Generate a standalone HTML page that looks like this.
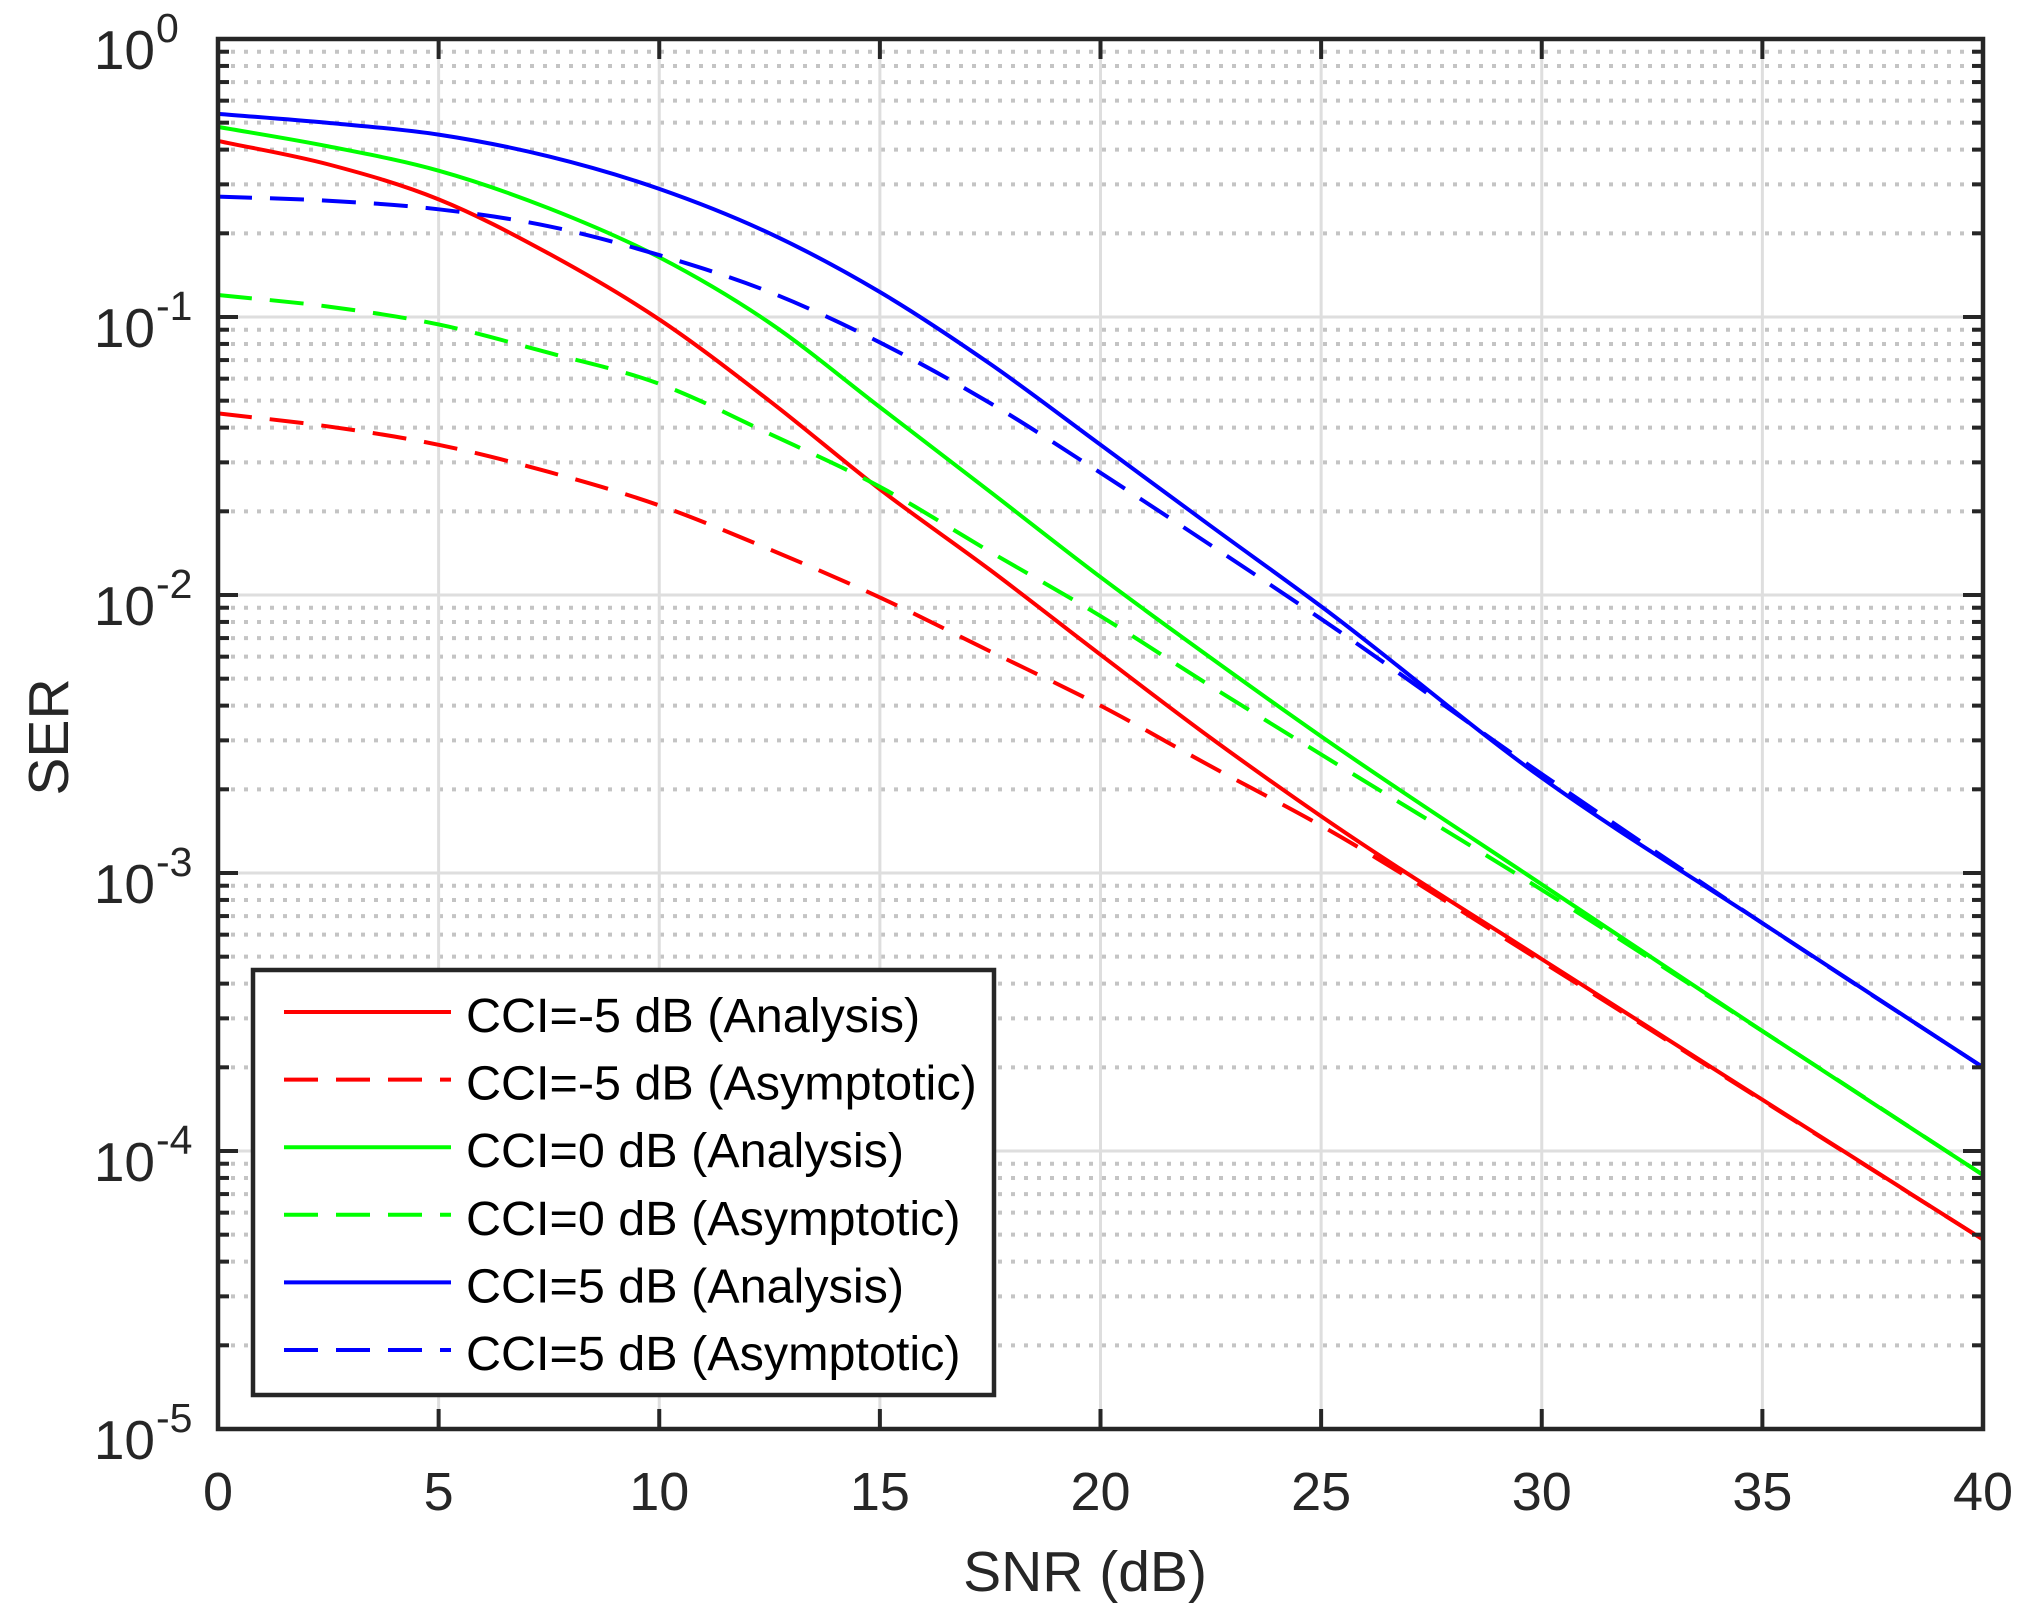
<!DOCTYPE html>
<html><head><meta charset="utf-8"><style>
html,body{margin:0;padding:0;background:#fff;}
svg{display:block;font-family:"Liberation Sans",Arial,sans-serif;}
</style></head><body>
<svg id="chart" width="2024" height="1617" viewBox="0 0 2024 1617" xmlns="http://www.w3.org/2000/svg">
<rect x="0" y="0" width="2024" height="1617" fill="#fff"/>
<g id="grid"></g>
<g id="series"></g>
<g id="axes"></g>
<g id="legend"></g>
<text x="1085" y="1591" font-size="57" fill="#262626" text-anchor="middle">SNR (dB)</text>
<text transform="translate(68,737) rotate(-90)" font-size="57" fill="#262626" text-anchor="middle">SER</text>
</svg>
<script>
const snr = [0,2.5,5,7.5,10,12.5,15,17.5,20,22.5,25,30,35,40];
const xTicks = [0,5,10,15,20,25,30,35,40];
const yExps = [0,-1,-2,-3,-4,-5];
const redAnalysis = [0.43,0.354,0.265,0.169,0.098,0.0499,0.024,0.0123,0.0061,0.00306,0.0016,4.9e-4,1.53e-4,4.8e-5];
const redAsym = [0.045,0.0404,0.0347,0.0277,0.021,0.0146,0.0098,0.00627,0.004,0.00242,0.00148,4.8e-4,1.52e-4,4.8e-5];
const greenAnalysis = [0.483,0.411,0.336,0.246,0.164,0.0953,0.0474,0.0235,0.0116,0.00594,0.0031,9.1e-4,2.7e-4,8.2e-5];
const greenAsym = [0.12,0.109,0.094,0.0743,0.0575,0.038,0.0245,0.0143,0.0084,0.0047,0.00267,8.7e-4,2.7e-4,8.2e-5];
const blueAnalysis = [0.538,0.499,0.453,0.378,0.289,0.200,0.123,0.0678,0.0347,0.0177,0.0091,0.0022,6.6e-4,2.0e-4];
const blueAsym = [0.271,0.262,0.244,0.212,0.167,0.123,0.081,0.049,0.0275,0.0151,0.0082,0.00227,6.6e-4,2.0e-4];
const legendLabels = ["CCI=-5 dB (Analysis)","CCI=-5 dB (Asymptotic)","CCI=0 dB (Analysis)","CCI=0 dB (Asymptotic)","CCI=5 dB (Analysis)","CCI=5 dB (Asymptotic)"];

const NS="http://www.w3.org/2000/svg";
const L=218,R=1983,T=39,B=1429;
function xs(v){return L+(v-0)/(40-0)*(R-L);}
function ys(v){return T+(-Math.log10(v))/5*(B-T);}
function mk(tag,attrs,parent){const e=document.createElementNS(NS,tag);for(const k in attrs)e.setAttribute(k,attrs[k]);parent.appendChild(e);return e;}
const grid=document.getElementById('grid'),axes=document.getElementById('axes'),ser=document.getElementById('series'),leg=document.getElementById('legend');

for(let d=0;d<5;d++){for(let m=2;m<=9;m++){const y=ys(m*Math.pow(10,-d-1));
 const g=mk('line',{x1:L,x2:R,y1:y,y2:y,stroke:'#c4c4c4','stroke-width':4,'stroke-dasharray':'4 9'},grid);
 
 
 const t1=mk('line',{x1:L,x2:L+11,y1:y,y2:y,stroke:'#262626','stroke-width':4},axes);
 
 
 const t2=mk('line',{x1:R-11,x2:R,y1:y,y2:y,stroke:'#262626','stroke-width':4},axes);
 
 
}}
yExps.forEach(e=>{const y=ys(Math.pow(10,e));
 const g=mk('line',{x1:L,x2:R,y1:y,y2:y,stroke:'#dedede','stroke-width':3},grid);
 
 
 const t1=mk('line',{x1:L,x2:L+20,y1:y,y2:y,stroke:'#262626','stroke-width':4},axes);
 
 
 const t2=mk('line',{x1:R-20,x2:R,y1:y,y2:y,stroke:'#262626','stroke-width':4},axes);
 
 
 const tx=mk('text',{x:155,y:y+30,'font-size':55,fill:'#262626','text-anchor':'end'},axes);
 
 
 tx.textContent='10';
 const sp=mk('text',{x:156,y:y+3,'font-size':41,fill:'#262626','text-anchor':'start'},axes);
 
 
 sp.textContent=(e===0?'0':'-'+(-e));
});
xTicks.forEach(v=>{const x=xs(v);
 const g=mk('line',{x1:x,x2:x,y1:T,y2:B,stroke:'#dedede','stroke-width':3},grid);
 
 
 const t1=mk('line',{x1:x,x2:x,y1:B-20,y2:B,stroke:'#262626','stroke-width':4},axes);
 
 
 const t2=mk('line',{x1:x,x2:x,y1:T,y2:T+20,stroke:'#262626','stroke-width':4},axes);
 
 
 const tx=mk('text',{x:x,y:1510,'font-size':54,fill:'#262626','text-anchor':'middle'},axes);
 
 
 tx.textContent=String(v);
});
const box=mk('rect',{x:L,y:T,width:R-L,height:B-T,fill:'none',stroke:'#262626','stroke-width':4.5},axes);



function pathFor(vals){
 const p=snr.map((s,i)=>[xs(s),ys(vals[i])]);
 const n=p.length;
 const m=p.map((pt,i)=>{
  if(i===0) return (p[1][1]-p[0][1])/(p[1][0]-p[0][0]);
  if(i===n-1) return (p[n-1][1]-p[n-2][1])/(p[n-1][0]-p[n-2][0]);
  const h0=p[i][0]-p[i-1][0],h1=p[i+1][0]-p[i][0];
  const s0=(p[i][1]-p[i-1][1])/h0,s1=(p[i+1][1]-p[i][1])/h1;
  return (s0*h1+s1*h0)/(h0+h1);
 });
 let d='M'+p[0][0]+','+p[0][1];
 for(let i=0;i<n-1;i++){
  const h=(p[i+1][0]-p[i][0])/3;
  d+=' C'+(p[i][0]+h)+','+(p[i][1]+m[i]*h)+' '+(p[i+1][0]-h)+','+(p[i+1][1]-m[i+1]*h)+' '+p[i+1][0]+','+p[i+1][1];
 }
 return d;
}
const defs=[
 [redAnalysis,'#ff0000',false,'red-analysis-line'],
 [redAsym,'#ff0000',true,'red-asymptotic-line'],
 [greenAnalysis,'#00ff00',false,'green-analysis-line'],
 [greenAsym,'#00ff00',true,'green-asymptotic-line'],
 [blueAnalysis,'#0000ff',false,'blue-analysis-line'],
 [blueAsym,'#0000ff',true,'blue-asymptotic-line']
];
defs.forEach(([vals,c,dash,name])=>{
 const a={d:pathFor(vals),fill:'none',stroke:c,'stroke-width':4};
 if(dash)a['stroke-dasharray']='34 18';
 const el=mk('path',a,ser);
 
 
});
const lb=mk('rect',{x:253,y:970,width:741,height:425,fill:'#fff',stroke:'#262626','stroke-width':4.5},leg);


defs.forEach(([vals,c,dash,name],i)=>{
 const y=1012+i*67.6;
 const a={x1:284,x2:451,y1:y,y2:y,stroke:c,'stroke-width':4};
 if(dash)a['stroke-dasharray']='34 18';
 const ln=mk('line',a,leg);
 
 
 const t=mk('text',{x:466,y:y+20,'font-size':48.5,fill:'#000'},leg);
 
 
 t.textContent=legendLabels[i];
});
</script>
</body></html>
